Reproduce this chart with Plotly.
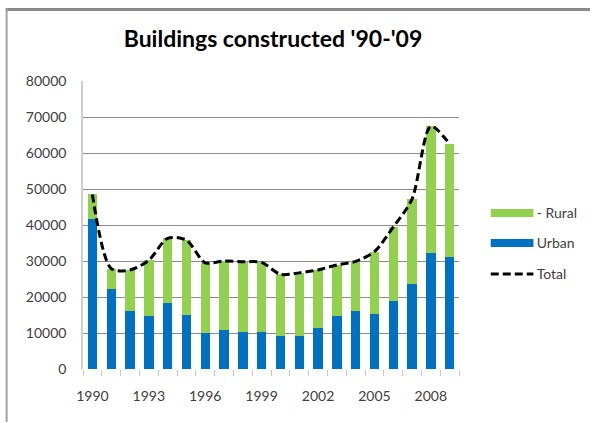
import plotly.graph_objects as go

years = list(range(1990, 2010))
urban = [41600, 22100, 16000, 14700, 18200, 14900, 9900, 10700, 10300, 10300,
         9300, 9300, 11300, 14600, 16000, 15200, 18800, 23500, 32300, 31200]
rural = [6900, 5800, 11500, 15500, 18100, 20900, 19600, 19300, 19500, 19300,
         17000, 17400, 16200, 14300, 13900, 17400, 20600, 23700, 35100, 31300]
total = [48500, 27900, 27500, 30200, 36300, 35800, 29500, 30000, 29800, 29600,
         26300, 26700, 27500, 28900, 29900, 32600, 39400, 47200, 67400, 62500]
tick_years = [1990, 1993, 1996, 1999, 2002, 2005, 2008]
y_ticks = [0, 10000, 20000, 30000, 40000, 50000, 60000, 70000, 80000]

BLUE = "#0070C0"
GREEN = "#92D050"
FONT = "Lato"
TXT = "#404040"

W, H = 595, 423
L, R, T, B = 83, 133, 81, 54
PW, PH = W - L - R, H - T - B

def px(x):
    return (x - L) / PW

def py(y):
    return (H - B - y) / PH

fig = go.Figure()
fig.add_trace(go.Bar(x=years, y=urban, name="Urban", marker_color=BLUE,
                     marker_line_width=0, showlegend=False))
fig.add_trace(go.Bar(x=years, y=rural, name="- Rural", marker_color=GREEN,
                     marker_line_width=0, showlegend=False))
fig.add_trace(go.Scatter(x=years, y=total, name="Total", mode="lines",
                         line=dict(color="black", width=3, dash="8px,4px",
                                   shape="spline", smoothing=0.8),
                         showlegend=False))
# legend entries (swatches drawn as shapes below)
for nm, lg in [("- Rural", "legend"), ("Urban", "legend2"), ("Total", "legend3")]:
    fig.add_trace(go.Scatter(x=[None], y=[None], name=nm, mode="lines",
                             line=dict(color="rgba(0,0,0,0)", width=1), legend=lg))

leg = dict(font=dict(family=FONT, size=14, color=TXT), bgcolor="rgba(0,0,0,0)",
           xanchor="left", yanchor="middle", itemwidth=30)
sw_x0, sw_x1 = 494, 537
shapes = [
    dict(type="line", xref="paper", yref="paper", x0=px(5), x1=px(594),
         y0=py(9.5), y1=py(9.5), line=dict(color="#8a8a8a", width=3),
         layer="above"),
    dict(type="line", xref="paper", yref="paper", x0=px(6), x1=px(6),
         y0=py(8), y1=py(422), line=dict(color="#a0a0a0", width=2),
         layer="above"),
    dict(type="rect", xref="paper", yref="paper", x0=px(sw_x0), x1=px(sw_x1),
         y0=py(209), y1=py(217), fillcolor=GREEN, line=dict(width=0)),
    dict(type="rect", xref="paper", yref="paper", x0=px(sw_x0), x1=px(sw_x1),
         y0=py(239), y1=py(247), fillcolor=BLUE, line=dict(width=0)),
    dict(type="line", xref="paper", yref="paper", x0=px(sw_x0), x1=px(sw_x1),
         y0=py(274), y1=py(274), line=dict(color="black", width=3, dash="8px,4px")),
]

fig.update_layout(
    width=W, height=H,
    margin=dict(l=L, r=R, t=T, b=B),
    paper_bgcolor="white", plot_bgcolor="white",
    barmode="stack", bargap=0.5,
    font=dict(family=FONT, size=14, color=TXT),
    title=dict(text="<b>Buildings constructed '90-'09</b>", xref="container",
               x=273 / W, xanchor="center",
               y=1 - 39 / H, yanchor="middle",
               font=dict(family=FONT, size=23, color="black")),
    legend=dict(leg, x=px(500), y=py(213)),
    legend2=dict(leg, x=px(500), y=py(243)),
    legend3=dict(leg, x=px(500), y=py(274)),
    xaxis=dict(range=[1989.5, 2009.5], tickvals=tick_years,
               ticktext=[str(t) for t in tick_years],
               ticks="outside", ticklen=14, tickcolor="rgba(0,0,0,0)",
               showgrid=False, showline=False, zeroline=False,
               tickfont=dict(family=FONT, size=14, color=TXT),
               minor=dict(tickvals=[y - 0.5 for y in years] + [2009.5],
                          ticks="outside", ticklen=6, tickcolor="#c8c8c8",
                          tickwidth=1, showgrid=False)),
    yaxis=dict(range=[0, 80000], tickvals=y_ticks,
               ticktext=[str(v) for v in y_ticks],
               ticks="outside", ticklen=12, tickcolor="rgba(0,0,0,0)",
               showgrid=True, gridcolor="#8c8c8c", gridwidth=1,
               showline=True, linecolor="#cfcfcf", linewidth=1.5,
               zeroline=False,
               tickfont=dict(family=FONT, size=14, color=TXT)),
    shapes=shapes,
)
fig.write_html("out.html", config={"displayModeBar": False},
               post_script="document.body.style.margin='0px';document.body.style.overflow='hidden';window.scrollTo(0,0);")
